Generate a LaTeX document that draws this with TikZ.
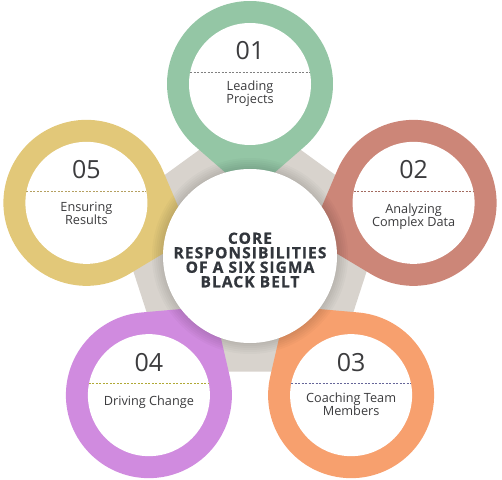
\documentclass[tikz,border=0pt]{standalone}
\usepackage{fontspec}
\setmainfont{Open Sans}
\newfontfamily\corefont[LetterSpace=7, BoldFeatures={FakeBold=0.8}]{Open Sans}
\usetikzlibrary{calc}

\definecolor{pinGreen}{RGB}{148,198,165}
\definecolor{pinRed}{RGB}{204,134,120}
\definecolor{pinOrange}{RGB}{247,160,110}
\definecolor{pinPurple}{RGB}{208,139,223}
\definecolor{pinYellow}{RGB}{226,200,121}
\definecolor{bandGray}{RGB}{216,211,205}
\definecolor{textGray}{RGB}{60,60,62}
\definecolor{coreText}{RGB}{50,54,60}

\def\ringdist{172}
\def\outerr{83pt}
\def\innerr{61pt}
\def\tipdist{110}

\tikzset{
    numtext/.style={font=\fontsize{25}{25}\selectfont, text=textGray, inner sep=0},
    itemtext/.style={font=\fontsize{12.7}{13}\selectfont, text=textGray, align=center, inner sep=0},
    coretext/.style={font=\corefont\bfseries\fontsize{15.5}{15.5}\selectfont,
        text=coreText, align=center, inner sep=0},
    chord/.style={dash pattern=on 2pt off 1.5pt, line width=0.5pt}
}

\begin{document}
\begin{tikzpicture}[x=1pt, y=1pt]
    \useasboundingbox (0,0) rectangle (502,479);
    \coordinate (o) at (250,223);

    % grey pentagon behind the pins
    \fill[bandGray, rounded corners=18pt]
        ($(o)+(90:143)$) -- ($(o)+(162:143)$) -- ($(o)+(234:143)$)
        -- ($(o)+(306:143)$) -- ($(o)+(18:143)$) -- cycle;

    % pins with numbers and texts
    \foreach \ang/\num/\col/\dcol/\txt/\dy in {
        90/01/pinGreen/gray/{Leading\\Projects}/10,
        18/02/pinRed/pinRed!80!black/{Analyzing\\Complex Data}/14,
        -54/03/pinOrange/gray!80!blue/{Coaching Team\\Members}/9,
        -126/04/pinPurple/olive!70/{Driving Change}/7,
        162/05/pinYellow/pinYellow!80!black/{Ensuring\\Results}/11}
    {
        \coordinate (c\num) at ($(o)+(\ang:\ringdist)$);
        \coordinate (t\num) at ($(o)+(\ang:\ringdist-\tipdist)$);
        \pgfmathsetmacro{\th}{acos(83/\tipdist)}
        \fill[\col] (t\num) -- ($(c\num)+(\ang+180+\th:\outerr)$)
            arc[start angle=\ang+180+\th, delta angle=360-2*\th, radius=\outerr] -- cycle;
        \fill[white] (c\num) circle (\innerr);
        \draw[chord, \dcol] ($(c\num)+(-60,12)$) -- ($(c\num)+(60,12)$);
        \node[numtext] (n\num) at ($(c\num)+(0,33)$) {\num};
        \node[itemtext] (l\num) at ($(c\num)+(0,-\dy)$) {\txt};
    }

    % soft shadow round the core
    \foreach \r in {88,90,...,98}
    {
        \fill[black, opacity=0.025] (o) circle (\r pt);
    }

    % core circle
    \fill[white] (o) circle (87pt);
    \node[coretext] (core) at ($(o)+(0,-4)$)
        {CORE\\[-1pt]RESPONSIBILITIES\\[-1pt]OF A SIX SIGMA\\[-1pt]BLACK BELT};
\end{tikzpicture}
\end{document}
